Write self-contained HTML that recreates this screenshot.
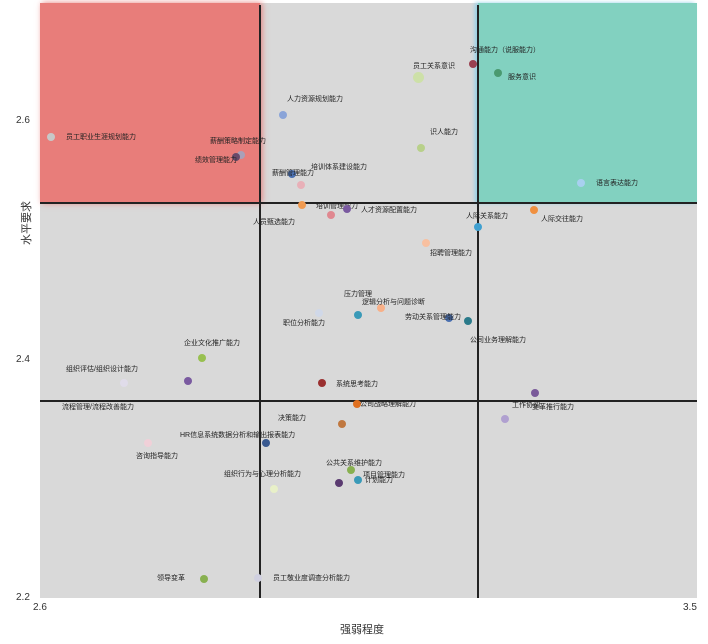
<!DOCTYPE html>
<html><head><meta charset="utf-8"><style>
body{margin:0;width:708px;height:644px;background:#fff;position:relative;overflow:hidden;font-family:"Liberation Sans","Noto Sans CJK SC",sans-serif;}
.a{position:absolute}
.d{position:absolute;width:8px;height:8px;border-radius:50%;margin:-4px 0 0 -4px}
.t{position:absolute;font-size:7px;color:#222;white-space:nowrap;transform:translateY(-50%)}
.k{position:absolute;font-size:10px;color:#333}
</style></head><body>
<div class="a" style="left:40px;top:3px;width:657px;height:595px;background:#d9d9d9"></div>
<div class="a" style="left:40px;top:3px;width:220px;height:200px;background:#e87d7a;box-shadow:2px 0 6px #e87d7a"></div>
<div class="a" style="left:478px;top:3px;width:219px;height:200px;background:#82d1c0;box-shadow:-3px 0 4px #8fd0e8"></div>
<div class="a" style="left:259px;top:5px;width:2px;height:593px;background:#222"></div>
<div class="a" style="left:477px;top:5px;width:2px;height:593px;background:#222"></div>
<div class="a" style="left:40px;top:202px;width:657px;height:2px;background:#222"></div>
<div class="a" style="left:40px;top:400px;width:657px;height:2px;background:#222"></div>

<div class="k" style="left:16px;top:115px">2.6</div>
<div class="k" style="left:16px;top:354px">2.4</div>
<div class="k" style="left:16px;top:592px">2.2</div>
<div class="k" style="left:33px;top:602px">2.6</div>
<div class="k" style="left:683px;top:602px">3.5</div>
<div class="k" style="left:340px;top:621px;font-size:11px">强弱程度</div>
<div class="k" style="left:4px;top:215px;font-size:11px;transform:rotate(-90deg)">水平要求</div>

<div class="d" style="left:51px;top:137px;background:#c8c8c8"></div><div class="t" style="left:66px;top:137px">员工职业生涯规划能力</div>
<div class="d" style="left:241px;top:155px;background:#a9a0b8"></div><div class="t" style="left:210px;top:141px">薪酬策略制定能力</div>
<div class="d" style="left:236px;top:157px;background:#6a4a6a"></div><div class="t" style="left:195px;top:160px">绩效管理能力</div>
<div class="d" style="left:283px;top:115px;background:#8aa4d8"></div><div class="t" style="left:287px;top:99px">人力资源规划能力</div>
<div class="t" style="left:311px;top:167px">培训体系建设能力</div>
<div class="d" style="left:292px;top:174px;background:#4a70b0"></div><div class="t" style="left:272px;top:173px">薪酬管理能力</div>
<div class="d" style="left:301px;top:185px;background:#e8b0b8"></div>
<div class="d" style="left:302px;top:205px;background:#f09a50"></div><div class="t" style="left:316px;top:206px">培训管理能力</div>
<div class="d" style="left:347px;top:209px;background:#7a5aa0"></div>
<div class="d" style="left:331px;top:215px;background:#e08890"></div>
<div class="t" style="left:361px;top:210px">人才资源配置能力</div>
<div class="t" style="left:253px;top:222px">人员甄选能力</div>
<div class="d" style="left:418px;top:77px;width:11px;height:11px;margin:-5px;background:#cde0a8"></div><div class="t" style="left:413px;top:66px">员工关系意识</div>
<div class="d" style="left:473px;top:64px;background:#9a4050"></div><div class="t" style="left:470px;top:50px">沟通能力（说服能力）</div>
<div class="d" style="left:498px;top:73px;background:#4a9a70"></div><div class="t" style="left:508px;top:77px">服务意识</div>
<div class="d" style="left:421px;top:148px;background:#b8d08a"></div><div class="t" style="left:430px;top:132px">识人能力</div>
<div class="d" style="left:581px;top:183px;background:#a8d0f0"></div><div class="t" style="left:596px;top:183px">语言表达能力</div>
<div class="d" style="left:478px;top:227px;background:#40a0d0"></div><div class="t" style="left:466px;top:216px">人际关系能力</div>
<div class="d" style="left:534px;top:210px;background:#f09040"></div><div class="t" style="left:541px;top:219px">人际交往能力</div>
<div class="d" style="left:426px;top:243px;background:#f8c0a0"></div><div class="t" style="left:430px;top:253px">招聘管理能力</div>
<div class="d" style="left:358px;top:315px;background:#3a9ab8"></div><div class="t" style="left:344px;top:294px">压力管理</div>
<div class="d" style="left:381px;top:308px;background:#f8b088"></div><div class="t" style="left:362px;top:302px">逻辑分析与问题诊断</div>
<div class="d" style="left:319px;top:313px;background:#d0d8e8"></div><div class="t" style="left:283px;top:323px">职位分析能力</div>
<div class="d" style="left:449px;top:318px;background:#4a70b0"></div><div class="d" style="left:468px;top:321px;background:#2a7a8a"></div><div class="t" style="left:405px;top:317px">劳动关系管理能力</div>
<div class="t" style="left:470px;top:340px">公司业务理解能力</div>
<div class="d" style="left:202px;top:358px;background:#98c050"></div><div class="t" style="left:184px;top:343px">企业文化推广能力</div>
<div class="d" style="left:124px;top:383px;background:#e0dcea"></div><div class="d" style="left:188px;top:381px;background:#7a5aa0"></div><div class="t" style="left:66px;top:369px">组织评估/组织设计能力</div>
<div class="d" style="left:322px;top:383px;background:#9a3030"></div><div class="t" style="left:336px;top:384px">系统思考能力</div>
<div class="d" style="left:357px;top:404px;background:#e07020"></div><div class="t" style="left:360px;top:404px">公司战略理解能力</div>
<div class="d" style="left:535px;top:393px;background:#7a5a9a"></div><div class="d" style="left:505px;top:419px;background:#b0a0d0"></div>
<div class="t" style="left:512px;top:405px">工作协调</div><div class="t" style="left:532px;top:407px">变革推行能力</div>
<div class="t" style="left:62px;top:407px">流程管理/流程改善能力</div>
<div class="d" style="left:342px;top:424px;background:#c07840"></div><div class="t" style="left:278px;top:418px">决策能力</div>
<div class="d" style="left:266px;top:443px;background:#3a5a90"></div><div class="t" style="left:180px;top:435px">HR信息系统数据分析和输出报表能力</div>
<div class="d" style="left:148px;top:443px;background:#f0d0d8"></div><div class="t" style="left:136px;top:456px">咨询指导能力</div>
<div class="d" style="left:351px;top:470px;background:#88b050"></div><div class="t" style="left:326px;top:463px">公共关系维护能力</div>
<div class="d" style="left:358px;top:480px;background:#3a9ab8"></div><div class="d" style="left:339px;top:483px;background:#5a3a70"></div>
<div class="t" style="left:363px;top:475px">项目管理能力</div><div class="t" style="left:365px;top:480px">计划能力</div>
<div class="d" style="left:274px;top:489px;background:#e8f0c8"></div><div class="t" style="left:224px;top:474px">组织行为与心理分析能力</div>
<div class="d" style="left:204px;top:579px;background:#88b050"></div><div class="t" style="left:157px;top:578px">领导变革</div>
<div class="d" style="left:258px;top:578px;background:#d0d0e0"></div><div class="t" style="left:273px;top:578px">员工敬业度调查分析能力</div>
</body></html>
